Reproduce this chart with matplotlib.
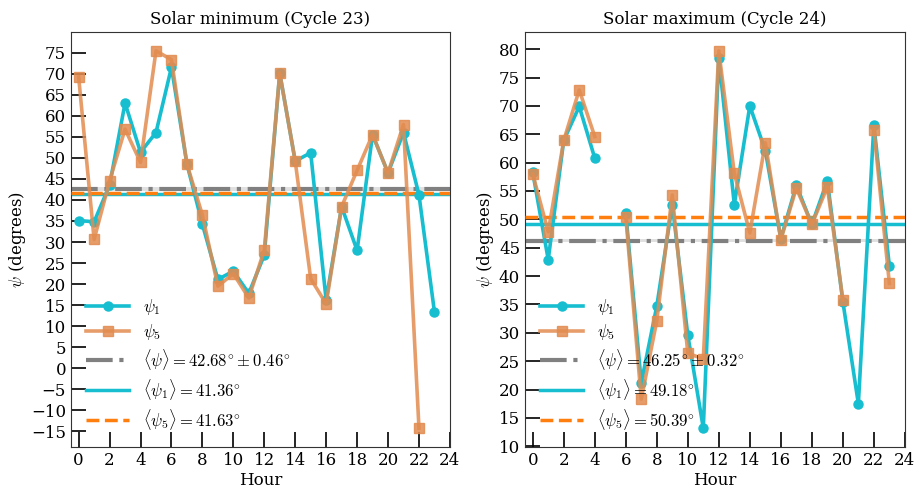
import numpy as np
import matplotlib
matplotlib.use("Agg")
import matplotlib.pyplot as plt

plt.rcParams['font.family'] = 'DejaVu Serif'
plt.rcParams['mathtext.fontset'] = 'cm'
plt.rcParams['font.size'] = 12

# Hourly angles, solar minimum (cycle 23)
hours = np.arange(24)
min_psi1 = [35.1, 34.8, 43.5, 63.0, 51.3, 56.0, 71.5, 48.5, 34.2, 21.1, 23.1, 17.8,
            26.9, 70.1, 49.2, 51.2, 16.2, 38.4, 28.0, 55.5, 46.4, 56.0, 41.2, 13.4]
min_psi5 = [69.2, 30.6, 44.5, 56.8, 48.9, 75.4, 73.3, 48.5, 36.4, 19.5, 22.5, 16.7,
            28.1, 70.1, 49.2, 21.3, 15.3, 38.4, 47.0, 55.5, 46.4, 57.9, -14.2, np.nan]
min_mean, min_err = 42.68, 0.46
min_mean1, min_mean5 = 41.36, 41.63

# Hourly angles, solar maximum (cycle 24)
max_psi1 = [58.3, 42.9, 63.9, 69.9, 60.8, np.nan, 51.2, 21.2, 34.7, 52.6, 29.6, 13.2,
            78.5, 52.6, 70.0, 62.1, 46.6, 56.0, 49.1, 56.8, 35.5, 17.5, 66.6, 41.8]
max_psi5 = [58.0, 47.8, 63.9, 72.8, 64.6, np.nan, 50.5, 18.3, 32.1, 54.3, 26.4, 25.4,
            79.7, 58.1, 47.6, 63.5, 46.4, 55.5, 49.1, 55.7, 35.8, np.nan, 65.8, 38.7]
max_mean, max_err = 46.25, 0.32
max_mean1, max_mean5 = 49.18, 50.39

cyan = '#17becf'
orange5 = '#e28c50'


def panel(ax, psi1, psi5, mean, err, mean1, mean5, title, yticks):
    ax.plot(hours, psi1, color=cyan, lw=2.6, marker='o', ms=6.5, label=r'$\psi_1$', zorder=4)
    ax.plot(hours, psi5, color=orange5, alpha=0.85, lw=2.6, marker='s', ms=7,
            label=r'$\psi_5$', zorder=5)
    ax.axhspan(mean - err, mean + err, color='lightgray', alpha=0.7, lw=0, zorder=1)
    ax.axhline(mean, color='gray', lw=3, ls='-.', zorder=2,
               label=r'$\langle\psi\rangle = %.2f^{\circ} \pm %.2f^{\circ}$' % (mean, err))
    ax.axhline(mean1, color=cyan, lw=2.5, ls='-', zorder=2,
               label=r'$\langle\psi_1\rangle = %.2f^{\circ}$' % mean1)
    ax.axhline(mean5, color='#ff7f0e', lw=2.5, ls='--', zorder=3,
               label=r'$\langle\psi_5\rangle = %.2f^{\circ}$' % mean5)
    ax.set_xlim(-0.5, 24)
    ax.set_xticks(np.arange(0, 25, 2))
    ax.set_yticks(yticks)
    ax.tick_params(direction='in', length=11, width=1.2, labelsize=12)
    ax.set_title(title, fontsize=12)
    ax.set_xlabel('Hour', fontsize=12, labelpad=2)
    ax.set_ylabel(r'$\psi$ (degrees)', fontsize=12, labelpad=2)
    ax.legend(loc='lower left', frameon=False, fontsize=12, handlelength=2.6,
              labelspacing=0.3, handletextpad=0.8)
    for s in ax.spines.values():
        s.set_color('#333333')


fig = plt.figure(figsize=(9.21, 4.92), dpi=100)
ax1 = fig.add_axes([0.077, 0.0915, 0.4115, 0.8435])
ax2 = fig.add_axes([0.570, 0.0915, 0.4125, 0.8435])

panel(ax1, min_psi1, min_psi5, min_mean, min_err, min_mean1, min_mean5,
      'Solar minimum (Cycle 23)', np.arange(-15, 76, 5))
panel(ax2, max_psi1, max_psi5, max_mean, max_err, max_mean1, max_mean5,
      'Solar maximum (Cycle 24)', np.arange(10, 81, 5))

fig.savefig('out.png', dpi=100)
